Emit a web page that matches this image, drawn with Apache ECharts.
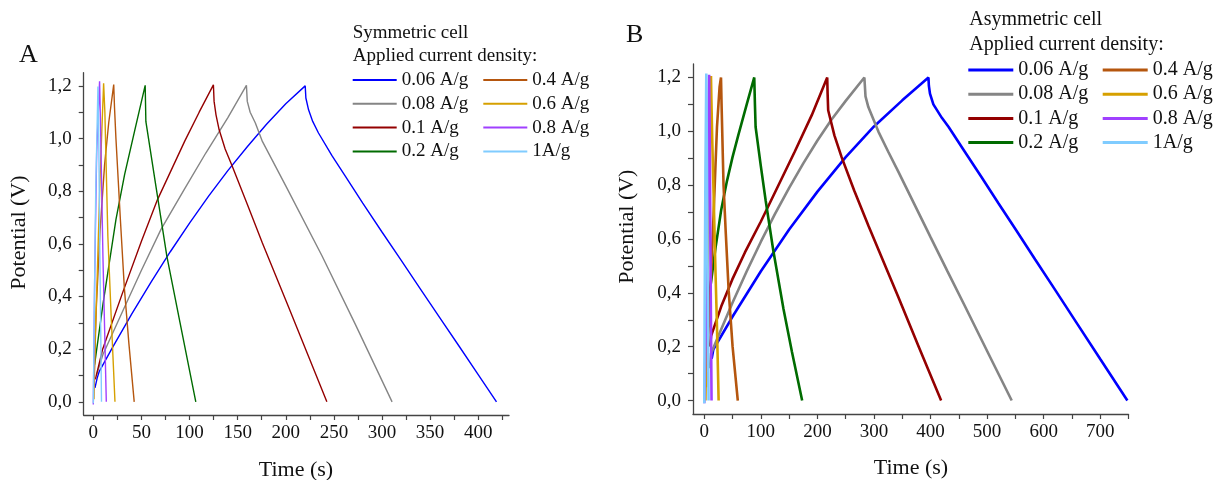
<!DOCTYPE html>
<html>
<head>
<meta charset="utf-8">
<script src="https://cdn.jsdelivr.net/npm/echarts@6/dist/echarts.min.js"></script>
<style>
html,body{margin:0;padding:0;background:#fff;}
#chart{width:1216px;height:480px;}
</style>
</head>
<body>
<div id="chart"></div>
<script>
// ---------- data ----------
const seriesNames = ['0.06 A/g','0.08 A/g','0.1 A/g','0.2 A/g','0.4 A/g','0.6 A/g','0.8 A/g','1A/g'];
const seriesColors = ['#0000ff','#858585','#940000','#006b00','#b5560e','#d6a000','#a040ff','#80ccff'];

// Symmetric cell (panel A): [time s, potential V]
const sym_006 = [[1.7,0.053],[4,0.09],[6.2,0.116],[20,0.207],[40,0.334],[60,0.455],[80,0.57],[100,0.679],[120,0.782],[140,0.879],[160,0.969],[180,1.054],[200,1.132],[220.2,1.2],[220.9,1.154],[223.7,1.109],[228,1.065],[234,1.021],[248,0.935],[261.7,0.858],[280,0.755],[300,0.645],[320,0.537],[340,0.428],[360,0.32],[380,0.212],[400,0.103],[419,0]];
const sym_008 = [[3.5,0.104],[10,0.18],[30,0.34],[50,0.5],[70.2,0.654],[95,0.81],[116.9,0.945],[140,1.08],[159.1,1.202],[160,1.141],[163,1.1],[168.4,1.059],[175.7,0.989],[200,0.82],[237.6,0.555],[272.2,0.295],[310.5,0]];
const sym_01  = [[2.1,0.085],[9.7,0.2],[30,0.41],[50,0.61],[66.7,0.768],[95,0.99],[110,1.1],[124.8,1.204],[125.5,1.141],[127.5,1.09],[130.7,1.034],[137,0.96],[144.5,0.894],[160,0.75],[175.7,0.603],[202.9,0.36],[242.7,0]];
const sym_02  = [[1.3,0.141],[10,0.37],[23.5,0.692],[32.5,0.863],[43,1.03],[53.9,1.202],[54.6,1.065],[65,0.82],[76.4,0.553],[90,0.303],[106.5,0]];
const sym_04  = [[0.5,0.05],[3.1,0.358],[7,0.65],[11.7,0.9],[16,1.06],[21.2,1.205],[22,1.12],[23.5,1.0],[28,0.7],[32.3,0.43],[37,0.22],[42.5,0]];
const sym_06  = [[0.7,0.01],[2,0.25],[4.1,0.483],[7,0.85],[10.7,1.21],[12,1.1],[15.1,0.63],[18.5,0.33],[22.5,0]];
const sym_08  = [[0,-0.01],[1.5,0.5],[3.5,0.95],[6.5,1.217],[7.5,1.05],[10,0.55],[13.5,0]];
const sym_1   = [[0,-0.005],[1,0.35],[2.5,0.8],[4.8,1.198],[5.5,1.05],[7,0.5],[8.5,0]];

// Asymmetric cell (panel B): [time s, potential V]
const asym_006 = [[13,0.155],[16,0.19],[21.8,0.211],[50,0.312],[100,0.48],[150,0.635],[200,0.776],[250,0.904],[300,1.018],[350,1.115],[396.3,1.2],[397,1.17],[399,1.14],[405,1.1],[420,1.05],[432,1.016],[460,0.926],[490,0.83],[520,0.733],[550,0.637],[585,0.524],[620,0.412],[660,0.283],[700,0.154],[748,0]];
const asym_008 = [[10,0.12],[11.8,0.174],[25,0.241],[50,0.364],[75,0.48],[100,0.59],[125,0.693],[150,0.79],[175,0.881],[200,0.966],[225,1.044],[250,1.113],[283,1.2],[285,1.13],[290,1.09],[308,0.998],[325,0.925],[343,0.85],[370,0.735],[400,0.607],[430,0.48],[460,0.354],[500,0.184],[543.5,0]];
const asym_01  = [[10,0.2],[12,0.24],[30,0.35],[49.5,0.45],[71.8,0.55],[100,0.665],[130,0.795],[160,0.925],[190,1.06],[217.3,1.2],[218,1.14],[219,1.078],[230,0.985],[242.6,0.905],[265,0.78],[290,0.65],[315,0.525],[343,0.385],[380,0.195],[418.7,0]];
const asym_02  = [[9,0.3],[10,0.41],[20,0.57],[30,0.71],[40,0.815],[50,0.905],[60,0.985],[75,1.1],[88.3,1.2],[89.5,1.1],[90.7,1.016],[100,0.87],[108.4,0.744],[121.9,0.558],[140,0.34],[155,0.18],[173,0]];
const asym_04  = [[3,0.05],[6,0.2],[10.6,0.4],[16.4,0.69],[22.4,1.016],[27,1.165],[29.5,1.2],[30.5,1.1],[34,0.8],[38,0.62],[43,0.41],[50,0.2],[59.2,0]];
const asym_06  = [[2,0],[4,0.3],[7,0.65],[9.5,0.95],[11.8,1.205],[12.5,1.12],[14,0.97],[16.4,0.77],[19.5,0.5],[22.4,0.273],[25.3,0]];
const asym_08  = [[0,-0.01],[3,0.3],[5.5,0.75],[8.5,1.21],[9.5,1.0],[11,0.5],[12.8,0]];
const asym_1   = [[0,-0.01],[0.5,0.3],[2,0.85],[3.5,1.215],[4,1.1],[5.5,0.55],[7.5,0]];

const symData  = [sym_006, sym_008, sym_01, sym_02, sym_04, sym_06, sym_08, sym_1];
const asymData = [asym_006, asym_008, asym_01, asym_02, asym_04, asym_06, asym_08, asym_1];

// tick labels
const yLabels = [0, 0.2, 0.4, 0.6, 0.8, 1.0, 1.2];
const yTicks = [0,0.1,0.2,0.3,0.4,0.5,0.6,0.7,0.8,0.9,1.0,1.1,1.2];
const xLabelsA = [0,50,100,150,200,250,300,350,400];
const xTicksA = [0,25,50,75,100,125,150,175,200,225,250,275,300,325,350,375,400,425];
const xLabelsB = [0,100,200,300,400,500,600,700];
const xTicksB = [0,50,100,150,200,250,300,350,400,450,500,550,600,650,700,750];

// ---------- chart ----------
const FONT = '"Liberation Serif", "Times New Roman", serif';
const TXT = '#111';

function xAxis(grid, min, max, labels, ticks) {
  return {
    type: 'value', gridIndex: grid, min: min, max: max,
    axisLine: {show: true, onZero: false, lineStyle: {color: '#444', width: 1.3}},
    axisTick: {show: true, inside: false, length: 5, customValues: ticks, lineStyle: {color: '#444', width: 1.2}},
    axisLabel: {show: true, customValues: labels, margin: 9, fontFamily: FONT, fontSize: 19, color: TXT},
    splitLine: {show: false}
  };
}
function yAxis(grid) {
  return {
    type: 'value', gridIndex: grid, min: -0.05, max: 1.25,
    axisLine: {show: true, onZero: false, lineStyle: {color: '#444', width: 1.3}},
    axisTick: {show: true, inside: false, length: 5, customValues: yTicks, lineStyle: {color: '#444', width: 1.2}},
    axisLabel: {show: true, customValues: yLabels, margin: 12, fontFamily: FONT, fontSize: 19, color: TXT,
      formatter: v => v.toFixed(1).replace('.', ',')},
    splitLine: {show: false}
  };
}

const series = [];
symData.forEach((d, i) => series.push({
  type: 'line', name: seriesNames[i], xAxisIndex: 0, yAxisIndex: 0, data: d,
  symbol: 'none', showSymbol: false, color: seriesColors[i],
  lineStyle: {width: 1.4, color: seriesColors[i]}, animation: false
}));
asymData.forEach((d, i) => series.push({
  type: 'line', name: seriesNames[i], xAxisIndex: 1, yAxisIndex: 1, data: d,
  symbol: 'none', showSymbol: false, color: seriesColors[i],
  lineStyle: {width: 2.6, color: seriesColors[i]}, animation: false
}));

function legend(names, left, top, fs, gap, iw, ih) {
  return {
    data: names, left: left, top: top, orient: 'vertical', padding: 0,
    icon: 'rect', itemWidth: iw, itemHeight: ih, itemGap: gap, selectedMode: false,
    textStyle: {fontFamily: FONT, fontSize: fs, lineHeight: fs, color: TXT}
  };
}

function txt(x, y, text, size, align, rot) {
  return {
    type: 'text', x: x, y: y, rotation: rot || 0, silent: true,
    style: {text: text, font: size + 'px ' + FONT, fill: TXT, textAlign: align, textVerticalAlign: 'middle'}
  };
}

const option = {
  animation: false,
  grid: [
    {left: 83.7, top: 72.7, width: 425.3, height: 342.3, containLabel: false},
    {left: 693, top: 64, width: 435.5, height: 350, containLabel: false}
  ],
  xAxis: [xAxis(0, -10, 432, xLabelsA, xTicksA), xAxis(1, -20, 750, xLabelsB, xTicksB)],
  yAxis: [yAxis(0), yAxis(1)],
  legend: [
    legend(seriesNames.slice(0,4), 352.7, 70.5, 19, 4.8, 44, 2),
    legend(seriesNames.slice(4,8), 483.3, 70.5, 19, 4.8, 44, 2),
    legend(seriesNames.slice(0,4), 968.3, 60, 20, 4.2, 45, 3),
    legend(seriesNames.slice(4,8), 1102.7, 60, 20, 4.2, 45, 3)
  ],
  graphic: [
    txt(28.3, 55, 'A', 26, 'center'),
    txt(634.6, 35, 'B', 26, 'center'),
    txt(352.7, 32.7, 'Symmetric cell', 19, 'left'),
    txt(352.7, 55.7, 'Applied current density:', 19, 'left'),
    txt(969.3, 20, 'Asymmetric cell', 20, 'left'),
    txt(969.3, 45, 'Applied current density:', 20, 'left'),
    txt(19, 232.5, 'Potential (V)', 22, 'center', Math.PI / 2),
    txt(296, 470, 'Time (s)', 22, 'center'),
    txt(627.5, 226.7, 'Potential (V)', 22, 'center', Math.PI / 2),
    txt(911, 468, 'Time (s)', 22, 'center')
  ],
  series: series
};

const chart = echarts.init(document.getElementById('chart'), null, {renderer: 'canvas'});
chart.setOption(option);
</script>
</body>
</html>
